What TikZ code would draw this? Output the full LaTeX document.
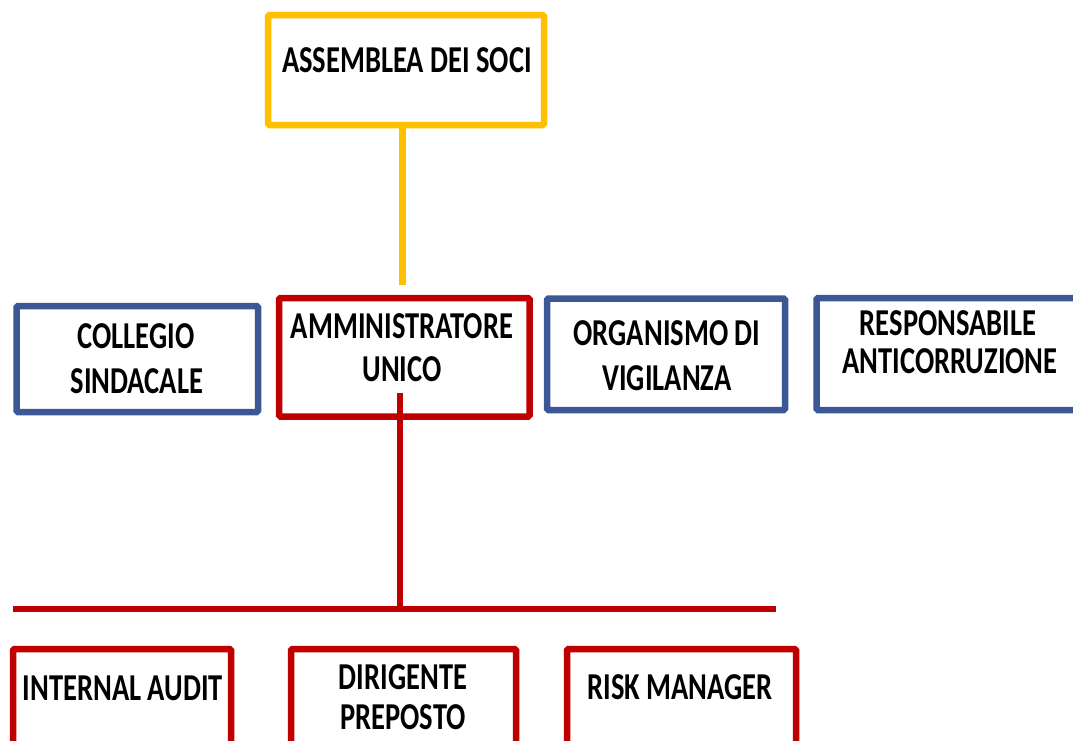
\documentclass[tikz,border=0pt]{standalone}
\usepackage{fontspec}
\setmainfont{Carlito}
\definecolor{cyellow}{HTML}{FFC000}
\definecolor{cred}{HTML}{C00000}
\definecolor{cblue}{RGB}{59,87,150}
\newcommand{\sq}[1]{\scalebox{0.75}[1]{#1}}
\begin{document}
\begin{tikzpicture}[x=1pt,y=-1pt,
  boxy/.style={draw=cyellow,line width=6.5pt,rounded corners=1.5pt,fill=white},
  boxr/.style={draw=cred,line width=6.5pt,rounded corners=1.5pt,fill=white},
  boxb/.style={draw=cblue,line width=6.5pt,rounded corners=1.5pt,fill=white},
  txt/.style={anchor=base,inner sep=0pt,font=\fontsize{38}{40}\selectfont\bfseries},
  lny/.style={draw=cyellow,line width=6.5pt},
  lnr/.style={draw=cred,line width=6.5pt}]
\useasboundingbox (0,0) rectangle (1073,740);
% boxes
\draw[boxy] (268,15) rectangle (544,125);
\node[inner sep=0pt,minimum width=276pt,minimum height=110pt] (ass) at (406,70) {};
\draw[boxb] (16.5,306) rectangle (258,412);
\draw[boxr] (279,298) rectangle (529.5,416.5);
\node[inner sep=0pt,minimum width=250.5pt,minimum height=118.5pt] (amm) at (404.25,357.25) {};
\draw[boxb] (547,298.5) rectangle (785,410);
\draw[boxb] (816.5,298) rectangle (1085,410);
\draw[boxr] (13,649) rectangle (231,765);
\draw[boxr] (291,649) rectangle (516,765);
\draw[boxr] (567,649) rectangle (796,765);
% connectors
\coordinate (yEnd) at (402.5,285);
\coordinate (ammIn) at (400,393);
\coordinate (busM) at (400,609);
\coordinate (busL) at (13,609);
\coordinate (busR) at (776,609);
\draw[lny] (ass.south -| yEnd) -- (yEnd);
\draw[lnr] (ammIn) -- (busM);
\draw[lnr] (busL) -- (busR);
% texts
\node[txt] (t1) at (407,72) {\sq{ASSEMBLEA DEI SOCI}};
\node[txt] (t2) at (136,348) {\sq{COLLEGIO}};
\node[txt] (t3) at (137,393) {\sq{SINDACALE}};
\node[txt] (t4) at (402,338) {\sq{AMMINISTRATORE}};
\node[txt] (t5) at (402,381) {\sq{UNICO}};
\node[txt] (t6) at (667,345) {\sq{ORGANISMO DI}};
\node[txt] (t7) at (667,390) {\sq{VIGILANZA}};
\node[txt] (t8) at (948,335) {\sq{RESPONSABILE}};
\node[txt] (t9) at (950,373) {\sq{ANTICORRUZIONE}};
\node[txt] (t10) at (123,700) {\sq{INTERNAL AUDIT}};
\node[txt] (t11) at (403,689) {\sq{DIRIGENTE}};
\node[txt] (t12) at (403,729) {\sq{PREPOSTO}};
\node[txt] (t13) at (680,699) {\sq{RISK MANAGER}};
\end{tikzpicture}
\end{document}
